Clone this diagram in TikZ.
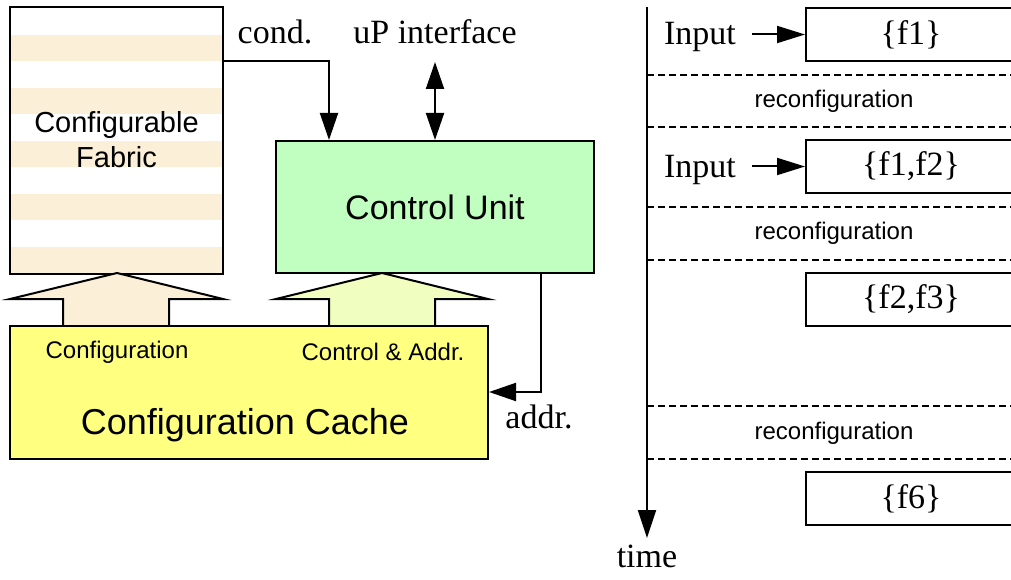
\documentclass[tikz,border=0pt]{standalone}
\usepackage{fontspec}
\setmainfont{Liberation Serif}
\setsansfont{Liberation Sans}
\usetikzlibrary{arrows.meta}
\definecolor{beige}{RGB}{252,239,215}
\definecolor{cuGreen}{RGB}{192,255,192}
\definecolor{cacheY}{RGB}{255,255,128}
\definecolor{lightYG}{RGB}{240,255,192}
\begin{document}
\begin{tikzpicture}[x=1pt,y=-1pt,
  box/.style={draw=black,line width=2pt,inner sep=0pt},
  conn/.style={line width=2pt,-{Triangle[length=27pt,width=18pt]}},
  blockarrow/.style={draw=black,line width=2pt,line join=miter},
  dashln/.style={line width=1.5pt,dash pattern=on 7pt off 4pt},
  sfbig/.style={font=\sffamily\fontsize{34}{40}\selectfont},
  sfmid/.style={font=\sffamily\fontsize{29}{35}\selectfont},
  sfsmall/.style={font=\sffamily\fontsize{24}{28}\selectfont},
  serif/.style={font=\rmfamily\fontsize{34}{40}\selectfont,anchor=base},
  setbox/.style={box,minimum width=210pt,minimum height=53pt,font=\rmfamily\fontsize{34}{40}\selectfont}
 ]
\useasboundingbox (0,0) rectangle (1011,580);

% ---------- Configurable fabric ----------
\foreach \yy in {35,88,141,194,247} \fill[beige] (11,\yy) rectangle (222,\yy+26);
\node[box,minimum width=213pt,minimum height=267pt] (fab) at (116.5,140.5) {};
\node[sfmid,align=center] (fabt) at (116.5,140) {Configurable\\Fabric};

% ---------- block arrows ----------
\draw[blockarrow,fill=beige] (63,326) -- (63,299) -- (10,299) -- (117,273) -- (223,299) -- (169,299) -- (169,326);
\draw[blockarrow,fill=lightYG] (329,326) -- (329,299) -- (276,299) -- (382,273) -- (488,299) -- (435,299) -- (435,326);

% ---------- Control unit ----------
\node[box,fill=cuGreen,minimum width=318pt,minimum height=132pt,sfbig] (cu) at (435,207) {Control Unit};

% ---------- Configuration cache ----------
\node[box,fill=cacheY,minimum width=478pt,minimum height=133pt] (cache) at (249,392.5) {};
\node[font=\sffamily\fontsize{36}{42}\selectfont] (cachet) at (245,425) {Configuration Cache};
\node[sfsmall] (cfgl) at (117,352) {Configuration};
\node[sfsmall] (ctll) at (383,352) {Control \& Addr.};

% ---------- connectors ----------
\coordinate (condc) at (329,61);
\draw[conn] (fab.east |- condc) -- (condc) -- (cu.north -| condc);
\node[serif] (condt) at (275,44) {cond.};

\coordinate (upc) at (435,62);
\draw[line width=2pt,{Triangle[length=27pt,width=18pt]}-{Triangle[length=27pt,width=18pt]}] (upc) -- (cu.north);
\node[serif] (upt) at (435,44) {uP interface};

\coordinate (ac) at (541,392);
\draw[conn] (cu.south -| ac) -- (ac) -- (cache.east |- ac);
\node[serif] (addrt) at (539,428) {addr.};

% ---------- timeline ----------
\coordinate (t0) at (647,7);
\coordinate (tend) at (647,538);
\draw[line width=2pt,-{Triangle[length=28pt,width=18pt]}] (t0) -- (tend);
\node[serif] (timet) at (647,567) {time};

\foreach \yy in {75,127,207,260,406,459} \draw[dashln] (647,\yy) -- (1011,\yy);

\node[setbox] (s1) at (911,34.5) {\{f1\}};
\node[setbox] (s2) at (911,166.5) {\{f1,f2\}};
\node[setbox] (s3) at (911,299) {\{f2,f3\}};
\node[setbox] (s4) at (911,498.5) {\{f6\}};

\node[serif] (in1) at (700,45) {Input};
\node[serif] (in2) at (700,178) {Input};
\coordinate (a1) at (752,34.5);
\coordinate (a2) at (752,166.5);
\draw[line width=2pt,-{Triangle[length=28pt,width=17pt]}] (a1) -- (s1.west);
\draw[line width=2pt,-{Triangle[length=28pt,width=17pt]}] (a2) -- (s2.west);

\node[sfsmall] (r1) at (834,101) {reconfiguration};
\node[sfsmall] (r2) at (834,233) {reconfiguration};
\node[sfsmall] (r3) at (834,433) {reconfiguration};
\end{tikzpicture}
\end{document}
